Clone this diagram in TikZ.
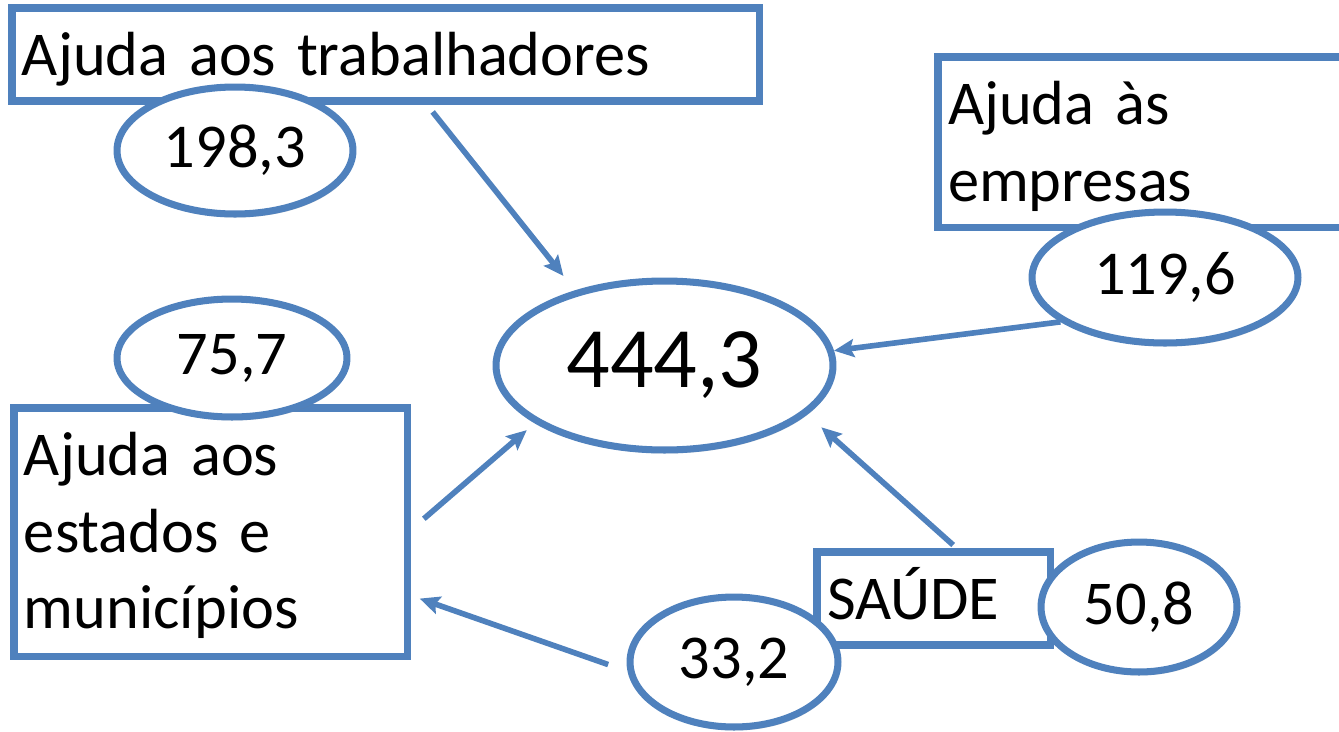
\documentclass[tikz,border=0pt]{standalone}
\usepackage{fontspec}
\setmainfont{Carlito}
\usetikzlibrary{arrows.meta,positioning,shapes.geometric,shadows}
\definecolor{offblue}{RGB}{79,129,189}

\begin{document}
\begin{tikzpicture}[x=0.02cm, y=-0.02cm,
    >={Stealth[length=0.4cm, width=0.36cm, inset=0.07cm]},
    txt/.style={font=\fontsize{35.5}{43.5}\selectfont},
    shade/.style={drop shadow={opacity=0.25, shadow xshift=0.03cm, shadow yshift=-0.07cm}},
    box/.style={txt, shade, draw=offblue, line width=4pt, fill=white, outer sep=0pt,
      anchor=north west, inner xsep=0.2cm, inner ysep=0pt, text height=1.36cm, align=left},
    val/.style={txt, shade, ellipse, draw=offblue, line width=4pt, fill=white, inner sep=0pt},
    flow/.style={->, draw=offblue, line width=3.2pt}]
  \useasboundingbox (0,0) rectangle (1339,731);

  % Boxes (top left corners)
  \node[box, text width=14.56cm, text depth=0.5cm] (trab) at (12,8) {Ajuda aos trabalhadores};
  \node[box, text width=8.0cm, text depth=2.06cm] (emp) at (938,57) {Ajuda às\\empresas};
  \node[box, text width=7.48cm, text depth=3.62cm] (est) at (14,408) {Ajuda aos\\estados e\\municípios};
  \node[box, text width=4.28cm, text depth=0.5cm] (sau) at (817,552) {SAÚDE};

  % Values
  \node[val, minimum width=4.72cm, minimum height=2.54cm] (n198) at (235,150.5) {198,3};
  \node[val, minimum width=5.32cm, minimum height=2.62cm] (n119) at (1165,277.5) {119,6};
  \node[val, minimum width=4.6cm, minimum height=2.36cm] (n75) at (232,358) {75,7};
  \node[val, minimum width=3.92cm, minimum height=2.6cm] (n50) at (1139,607) {50,8};
  \node[val, minimum width=4.16cm, minimum height=2.6cm] (n33) at (734,662) {33,2};
  \node[val, minimum width=6.74cm, minimum height=3.38cm, font=\fontsize{49}{58}\selectfont] (total) at (664.5,365.5) {444,3};

  % Flows into the total
  \draw[flow, shorten <=0.28cm, shorten >=0.37cm] ([xshift=0.76cm]trab.south) -- (total.140);
  \draw[flow] (n119.203) -- (total.5);
  \draw[flow, shorten <=0.21cm, shorten >=0.38cm] ([xshift=0.54cm]sau.north) -- (total.341);
  \draw[flow, shorten <=0.42cm, shorten >=0.21cm] (est.east) -- (total.204);
  \draw[flow, shorten <=0.41cm, shorten >=0.25cm] (n33.185) -- ([yshift=-1.24cm]est.east);
\end{tikzpicture}
\end{document}
